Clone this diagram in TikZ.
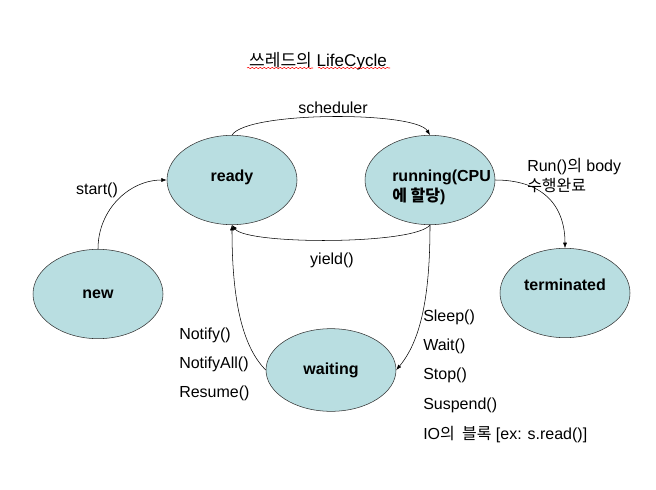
\documentclass[tikz,border=0pt]{standalone}
\usepackage{fontspec}
\setmainfont{Liberation Sans}
\newfontfamily\kr{Noto Sans CJK KR}
\usetikzlibrary{shapes.geometric,arrows.meta,decorations.pathmorphing}
\definecolor{statefill}{RGB}{185,222,225}
\tikzset{
  state/.style={ellipse, draw=black!80, fill=statefill, minimum width=97.5pt, minimum height=67pt, inner sep=1pt, font=\bfseries\fontsize{12}{14}\selectfont},
  lbl/.style={font=\fontsize{12}{14}\selectfont, inner sep=0pt},
  arr/.style={-{Latex[length=4pt,width=3pt]}, thin}
}
\begin{document}
\begin{tikzpicture}[x=0.75pt, y=-0.75pt]
		%%%%% START %%%%%
		\useasboundingbox[fill=white] (0,0) rectangle (656,489);
		
		% title
		\node[font=\fontsize{12.8}{15}\selectfont, inner sep=0pt] (title) at (318,61) {{\kr 쓰레드의} LifeCycle};
		\draw[red, decorate, decoration={snake, amplitude=0.5pt, segment length=3pt}] (247,68) -- (313,68);
		\draw[red, decorate, decoration={snake, amplitude=0.5pt, segment length=3pt}] (318,68) -- (390,68);
		
		% states
		\node[state, text depth=7pt] (ready) at (232,180) {ready};
		\node[state] (running) at (430,180) {};
		\node[font=\bfseries\fontsize{12}{15}\selectfont, align=left, anchor=west, inner sep=0pt] (runtxt) at (392,187) {running(CPU\\{\kr 에 할당})};
		\node[state] (new) at (98,294) {new};
		\node[state, minimum height=62pt] (waiting) at (331,370) {waiting};
		\node[state, text depth=12pt] (terminated) at (565,293) {terminated};
		
		% transitions
		\draw[arr] (new.north) .. controls +(0,-40) and +(-37,0) .. (ready.west);
		\draw[arr] (ready.north) .. controls +(15,-24) and +(-15,-24) .. (running.north);
		\draw[arr] (running.south) .. controls +(-15,20) and +(15,20) .. (ready.south);
		\draw[arr] (running.south) .. controls +(0,70) and +(25,-30) .. (waiting.east);
		\draw[arr] (waiting.west) .. controls +(-25,-25) and +(0,70) .. (ready.south);
		\draw[arr] (running.east) .. controls +(45,0) and +(0,-45) .. (terminated.north);
		
		% labels
		\node[lbl] (lstart) at (97,190) {start()};
		\node[lbl] (lsched) at (333,108) {scheduler};
		\node[lbl] (lyield) at (332,260) {yield()};
		\node[lbl, anchor=west] (lrun1) at (527,167) {Run(){\kr 의} body};
		\node[lbl, anchor=west] (lrun2) at (527,186) {\kr 수행완료};
		
		\node[lbl, anchor=west] (lnotify) at (179,335) {Notify()};
		\node[lbl, anchor=west] (lnotifyall) at (179,364) {NotifyAll()};
		\node[lbl, anchor=west] (lresume) at (179,393) {Resume()};
		
		\node[lbl, anchor=west] (lsleep) at (423,317) {Sleep()};
		\node[lbl, anchor=west] (lwait) at (423,346) {Wait()};
		\node[lbl, anchor=west] (lstop) at (423,375) {Stop()};
		\node[lbl, anchor=west] (lsuspend) at (423,405) {Suspend()};
		\node[lbl, anchor=west] (lio) at (423,435) {IO{\kr 의\ \ 블록} [ex: s.read()]};
		%%%%% END %%%%%
\end{tikzpicture}
\end{document}
